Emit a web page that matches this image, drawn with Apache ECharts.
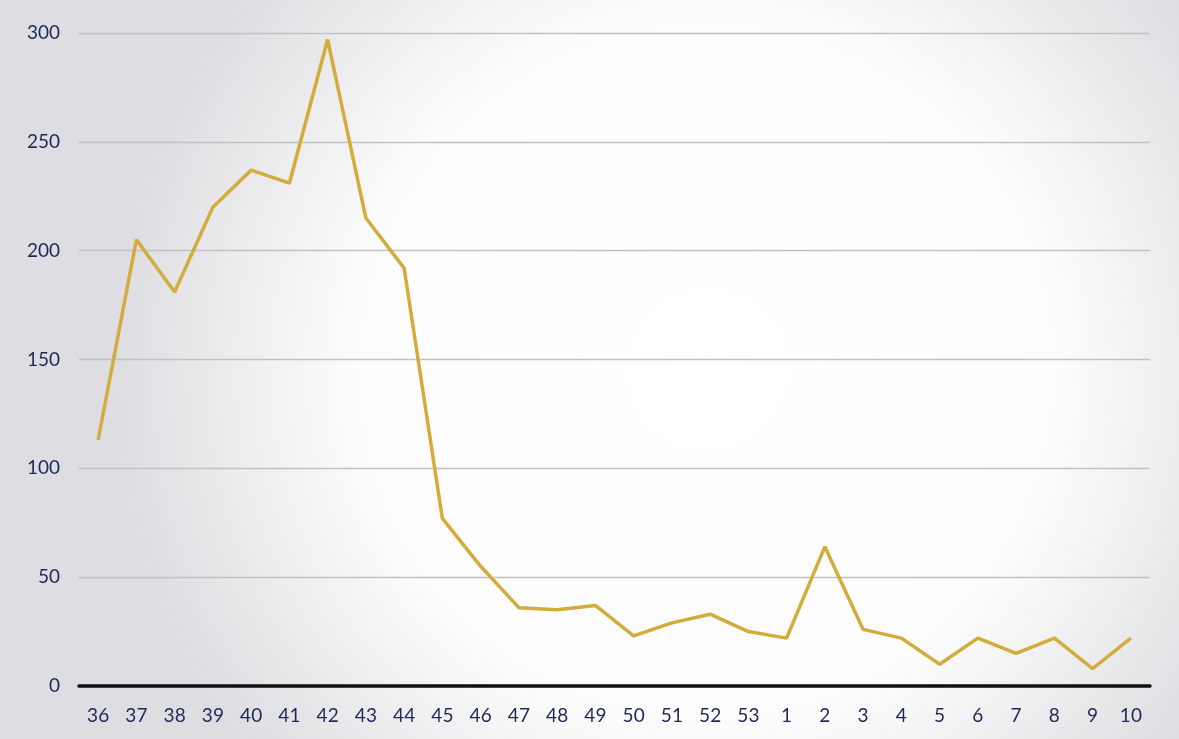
<!DOCTYPE html>
<html><head><meta charset="utf-8">
<script src="https://cdn.jsdelivr.net/npm/echarts@6/dist/echarts.min.js"></script>
<style>html,body{margin:0;padding:0;}#c{width:1179px;height:739px;}</style>
</head><body><div id="c"></div>
<script>
const weeks = ['36','37','38','39','40','41','42','43','44','45','46','47','48','49','50','51','52','53','1','2','3','4','5','6','7','8','9','10'];
const values = [113,205,181,220,237,231,297,215,192,77,55,36,35,37,23,29,33,25,22,64,26,22,10,22,15,22,8,22];
const yTicks = [0,50,100,150,200,250,300];

const chart = echarts.init(document.getElementById('c'));
chart.setOption({
  backgroundColor: {
    type: 'radial', x: 0.6, y: 0.5, r: 0.8,
    colorStops: [{offset:0,color:'#ffffff'},{offset:0.6,color:'#fcfcfc'},{offset:1,color:'#dedee2'}]
  },
  grid: {left: 79, right: 29, top: 33, bottom: 53, containLabel: false},
  xAxis: {
    type: 'category', data: weeks, boundaryGap: true,
    axisLine: {lineStyle: {color: '#111', width: 3.5}},
    axisTick: {show: false},
    axisLabel: {color: '#1f2858', fontSize: 19, fontFamily: 'Lato', margin: 20}
  },
  yAxis: {
    type: 'value', min: yTicks[0], max: yTicks[yTicks.length-1], interval: 50,
    axisLine: {show: false}, axisTick: {show: false},
    axisLabel: {color: '#1f2858', fontSize: 19, fontFamily: 'Lato', margin: 19},
    splitLine: {lineStyle: {color: '#c2c2c2', width: 1.3}}
  },
  series: [{
    type: 'line', data: values, symbol: 'none',
    lineStyle: {color: '#d3ac3c', width: 3.5}
  }]
});
</script></body></html>
